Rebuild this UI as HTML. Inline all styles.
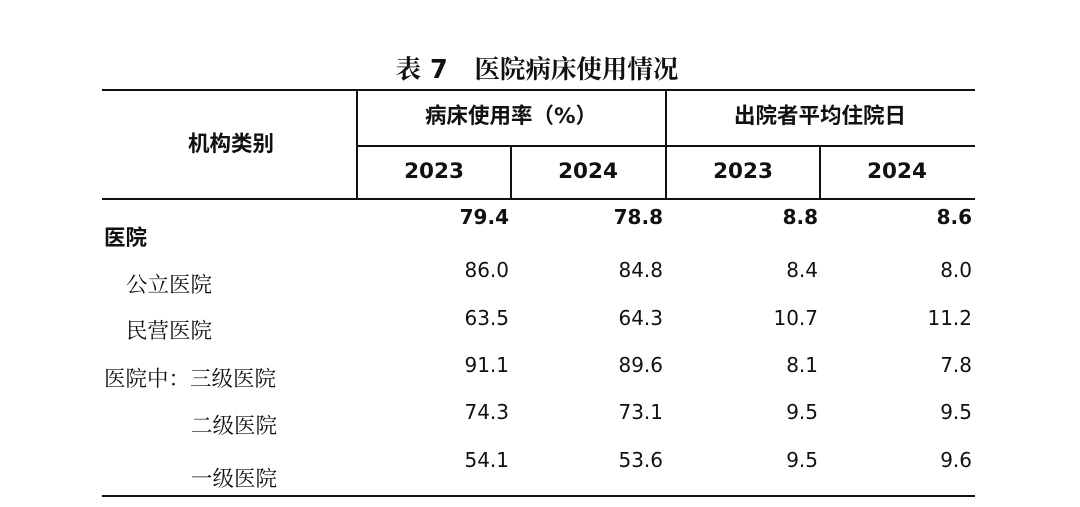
<!DOCTYPE html>
<html><head><meta charset="utf-8"><style>
html,body{margin:0;padding:0;background:#fff;}
body{width:1080px;height:507px;position:relative;overflow:hidden;color:#111;}
.a{position:absolute;white-space:nowrap;line-height:1;}
.h{font-family:"DejaVu Sans","Noto Sans CJK SC",sans-serif;font-weight:bold;font-size:21.5px;}
.n{font-family:"DejaVu Sans","Liberation Sans",sans-serif;font-size:20px;text-align:right;width:120px;}
.b{font-weight:bold;}
.l{font-family:"Liberation Serif","Noto Serif CJK SC",serif;font-size:21.5px;}
.hl{position:absolute;background:#111;}
.c{transform:translateX(-50%);}
</style></head><body>
<div class="a c" style="left:537px;top:58px;font-family:'DejaVu Sans','Noto Serif CJK SC',serif;font-size:25.5px;font-weight:bold;">表 7&nbsp;&nbsp;&nbsp;医院病床使用情况</div>
<div class="hl" style="left:102px;top:89px;width:873px;height:2px"></div>
<div class="hl" style="left:357px;top:145px;width:618px;height:1.5px"></div>
<div class="hl" style="left:102px;top:198px;width:873px;height:2px"></div>
<div class="hl" style="left:102px;top:495px;width:873px;height:2px"></div>
<div class="hl" style="left:356px;top:90px;width:1.5px;height:109px"></div>
<div class="hl" style="left:665px;top:90px;width:1.5px;height:109px"></div>
<div class="hl" style="left:510px;top:145px;width:1.5px;height:54px"></div>
<div class="hl" style="left:819px;top:145px;width:1.5px;height:54px"></div>
<div class="a h c" style="left:231px;top:134px">机构类别</div>
<div class="a h c" style="left:511px;top:106px">病床使用率（%）</div>
<div class="a h c" style="left:820px;top:106px">出院者平均住院日</div>
<div class="a h c" style="left:434px;top:161px">2023</div>
<div class="a h c" style="left:588px;top:161px">2024</div>
<div class="a h c" style="left:743px;top:161px">2023</div>
<div class="a h c" style="left:897px;top:161px">2024</div>

<div class="a l b" style="left:104px;top:228px;font-family:'Liberation Sans','Noto Sans CJK SC',sans-serif">医院</div>
<div class="a l" style="left:126px;top:275px">公立医院</div>
<div class="a l" style="left:126px;top:321px">民营医院</div>
<div class="a l" style="left:104px;top:369px">医院中：三级医院</div>
<div class="a l" style="left:191px;top:416px">二级医院</div>
<div class="a l" style="left:191px;top:469px">一级医院</div>

<div class="a n b" style="left:389px;top:207px">79.4</div><div class="a n b" style="left:543px;top:207px">78.8</div><div class="a n b" style="left:698px;top:207px">8.8</div><div class="a n b" style="left:852px;top:207px">8.6</div>
<div class="a n" style="left:389px;top:260px">86.0</div><div class="a n" style="left:543px;top:260px">84.8</div><div class="a n" style="left:698px;top:260px">8.4</div><div class="a n" style="left:852px;top:260px">8.0</div>
<div class="a n" style="left:389px;top:308px">63.5</div><div class="a n" style="left:543px;top:308px">64.3</div><div class="a n" style="left:698px;top:308px">10.7</div><div class="a n" style="left:852px;top:308px">11.2</div>
<div class="a n" style="left:389px;top:355px">91.1</div><div class="a n" style="left:543px;top:355px">89.6</div><div class="a n" style="left:698px;top:355px">8.1</div><div class="a n" style="left:852px;top:355px">7.8</div>
<div class="a n" style="left:389px;top:402px">74.3</div><div class="a n" style="left:543px;top:402px">73.1</div><div class="a n" style="left:698px;top:402px">9.5</div><div class="a n" style="left:852px;top:402px">9.5</div>
<div class="a n" style="left:389px;top:450px">54.1</div><div class="a n" style="left:543px;top:450px">53.6</div><div class="a n" style="left:698px;top:450px">9.5</div><div class="a n" style="left:852px;top:450px">9.6</div>
</body></html>
